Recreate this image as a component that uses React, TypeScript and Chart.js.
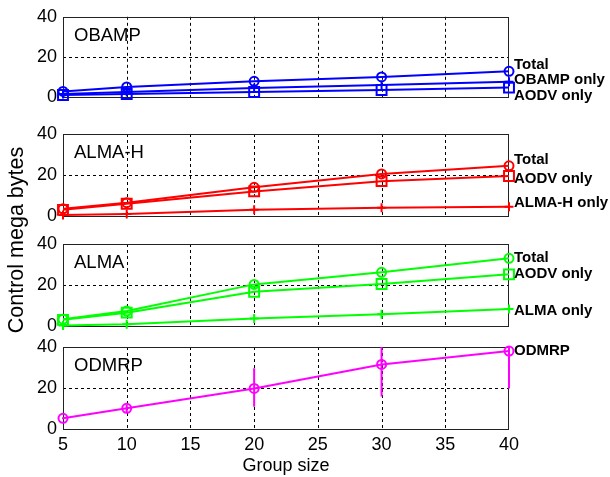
import React, { useEffect, useRef } from 'react';
import { Chart, registerables } from 'chart.js';
Chart.register(...registerables);

const FONT = "Arial, 'Liberation Sans', Helvetica, sans-serif";

// ---- data ----
const groupSizes = [5, 10, 20, 30, 40];
const xTickValues = [5, 10, 15, 20, 25, 30, 35, 40];
const yTickValues = [0, 20, 40];

const obampTotal = [2.8, 5, 7.8, 10, 12.8];
const obampOnly = [1.5, 2.5, 4.5, 6, 7.6];
const obampAodvOnly = [1, 1.5, 2.5, 3.5, 4.7];

const almaHTotal = [3.5, 6.5, 14, 20.5, 24.5];
const almaHAodvOnly = [3, 6, 12, 17, 19.5];
const almaHOnly = [0.5, 1, 3, 4, 4.5];

const almaTotal = [3.3, 7.3, 20.3, 26.2, 33];
const almaAodvOnly = [3, 6.5, 16.7, 20.5, 25.2];
const almaOnly = [0.3, 0.8, 3.7, 5.7, 8.3];

const odmrpTotal = [5.2, 10.1, 19.8, 31.5, 38];
const odmrpErrLow = [4.7, 8, 10.9, 15.8, 19.8];
const odmrpErrHigh = [5.7, 12, 29.6, 47, 56];

type Series = { name: string; data: number[]; marker: string; labelY: number; err?: [number[], number[]] };
type Panel = { title: string; color: string; top: number; bottom: number; series: Series[]; showX: boolean };

const panels: Panel[] = [
  {
    title: 'OBAMP', color: '#0000ff', top: 15, bottom: 97, showX: false,
    series: [
      { name: 'Total', data: obampTotal, marker: 'circle', labelY: 16 },
      { name: 'OBAMP only', data: obampOnly, marker: 'cross', labelY: 8.3 },
      { name: 'AODV only', data: obampAodvOnly, marker: 'rect', labelY: 0.5 },
    ],
  },
  {
    title: 'ALMA-H', color: '#ff0000', top: 134, bottom: 216, showX: false,
    series: [
      { name: 'Total', data: almaHTotal, marker: 'circle', labelY: 27.3 },
      { name: 'AODV only', data: almaHAodvOnly, marker: 'rect', labelY: 17.9 },
      { name: 'ALMA-H only', data: almaHOnly, marker: 'cross', labelY: 6.2 },
    ],
  },
  {
    title: 'ALMA', color: '#00ff00', top: 244, bottom: 326, showX: false,
    series: [
      { name: 'Total', data: almaTotal, marker: 'circle', labelY: 33.3 },
      { name: 'AODV only', data: almaAodvOnly, marker: 'rect', labelY: 25.2 },
      { name: 'ALMA only', data: almaOnly, marker: 'cross', labelY: 7.3 },
    ],
  },
  {
    title: 'ODMRP', color: '#ff00ff', top: 347, bottom: 429, showX: true,
    series: [
      { name: 'ODMRP', data: odmrpTotal, marker: 'circle', labelY: 38, err: [odmrpErrLow, odmrpErrHigh] },
    ],
  },
];

const W = 610;
const H = 477;
const LEFT = 63;
const RIGHT = 509;

function makeChart(canvas: HTMLCanvasElement, p: Panel, idx: number) {
  const decor = {
    id: 'decor' + idx,
    beforeDatasetsDraw(chart: any) {
      const { ctx, chartArea: a, scales } = chart;
      const xs = scales.x, ys = scales.y;
      ctx.save();
      ctx.strokeStyle = '#000';
      ctx.lineWidth = 1;
      ctx.setLineDash([3, 3]);
      ctx.beginPath();
      xTickValues.forEach((v) => {
        if (v <= xs.min || v >= xs.max) return;
        const px = Math.round(xs.getPixelForValue(v)) + 0.5;
        ctx.moveTo(px, a.top);
        ctx.lineTo(px, a.bottom);
      });
      yTickValues.forEach((v) => {
        if (v <= ys.min || v >= ys.max) return;
        const py = Math.round(ys.getPixelForValue(v)) + 0.5;
        ctx.moveTo(a.left, py);
        ctx.lineTo(a.right, py);
      });
      ctx.stroke();
      ctx.setLineDash([]);
      ctx.strokeStyle = '#222';
      ctx.strokeRect(Math.round(a.left) + 0.5, Math.round(a.top) + 0.5, Math.round(a.right - a.left) - 1, Math.round(a.bottom - a.top));
      ctx.restore();
    },
    afterDatasetsDraw(chart: any) {
      const { ctx, chartArea: a, scales } = chart;
      const xs = scales.x, ys = scales.y;
      ctx.save();
      // error bars
      p.series.forEach((s) => {
        if (!s.err) return;
        ctx.save();
        ctx.beginPath();
        ctx.rect(a.left - 5, a.top, a.right - a.left + 10, a.bottom - a.top);
        ctx.clip();
        ctx.strokeStyle = p.color;
        ctx.lineWidth = 2;
        ctx.beginPath();
        groupSizes.forEach((g, i) => {
          const px = xs.getPixelForValue(g);
          ctx.moveTo(px, ys.getPixelForValue(s.err![0][i]));
          ctx.lineTo(px, ys.getPixelForValue(s.err![1][i]));
        });
        ctx.stroke();
        ctx.restore();
      });
      // series labels
      ctx.fillStyle = '#000';
      ctx.font = `bold 15px ${FONT}`;
      ctx.textAlign = 'left';
      ctx.textBaseline = 'middle';
      p.series.forEach((s) => {
        ctx.fillText(s.name, a.right + 5, ys.getPixelForValue(s.labelY));
      });
      // panel title
      ctx.font = `18.5px ${FONT}`;
      ctx.fillText(p.title, a.left + 11, a.top + 19);
      // shared y-axis title
      if (idx === 1) {
        ctx.translate(17, 240);
        ctx.rotate(-Math.PI / 2);
        ctx.textAlign = 'center';
        ctx.font = `21.5px ${FONT}`;
        ctx.fillText('Control mega bytes', 0, 0);
      }
      ctx.restore();
    },
  };

  const datasets = p.series.map((s) => ({
    label: s.name,
    data: groupSizes.map((g, i) => ({ x: g, y: s.data[i] })),
    borderColor: p.color,
    backgroundColor: 'rgba(0,0,0,0)',
    borderWidth: 2,
    pointStyle: s.marker,
    pointRadius: s.marker === 'rect' ? 7 : 4.5,
    pointBorderWidth: 2,
    pointBorderColor: p.color,
    pointBackgroundColor: 'rgba(0,0,0,0)',
    tension: 0,
    clip: false as any,
  }));

  return new Chart(canvas, {
    type: 'line',
    data: { datasets },
    options: {
      responsive: false,
      animation: false,
      events: [],
      layout: {
        padding: {
          left: 0,
          right: W - RIGHT,
          top: p.top,
          bottom: 0,
        },
      },
      plugins: { legend: { display: false }, tooltip: { enabled: false } },
      scales: {
        x: {
          type: 'linear',
          min: 5,
          max: 40,
          display: true,
          grid: { display: false, drawTicks: false },
          border: { display: false },
          ticks: {
            display: p.showX,
            stepSize: 5,
            color: '#000',
            font: { family: FONT, size: 18 },
            padding: 5,
            maxRotation: 0,
            autoSkip: false,
          },
          title: {
            display: p.showX,
            text: 'Group size',
            color: '#000',
            font: { family: FONT, size: 18 },
            padding: 0,
          },
          afterFit: (s: any) => {
            s.height = H - p.bottom;
          },
        },
        y: {
          min: 0,
          max: 40,
          grid: { display: false, drawTicks: false },
          border: { display: false },
          ticks: {
            stepSize: 20,
            color: '#000',
            font: { family: FONT, size: 18 },
            padding: 6,
          },
          afterFit: (s: any) => {
            s.width = LEFT;
          },
        },
      },
    },
    plugins: [decor],
  });
}

function PanelCanvas({ p, idx }: { p: Panel; idx: number }) {
  const ref = useRef<HTMLCanvasElement>(null);
  useEffect(() => {
    if (!ref.current) return;
    const c = makeChart(ref.current, p, idx);
    return () => c.destroy();
  }, [p, idx]);
  return (
    <canvas
      ref={ref}
      width={W}
      height={H}
      style={{ position: 'absolute', left: 0, top: 0, width: W, height: H }}
    />
  );
}

export default function App() {
  return (
    <div style={{ position: 'fixed', left: 0, top: 0, width: W, height: H, background: '#fff', overflow: 'hidden' }}>
      {panels.map((p, i) => (
        <PanelCanvas key={p.title} p={p} idx={i} />
      ))}
    </div>
  );
}
